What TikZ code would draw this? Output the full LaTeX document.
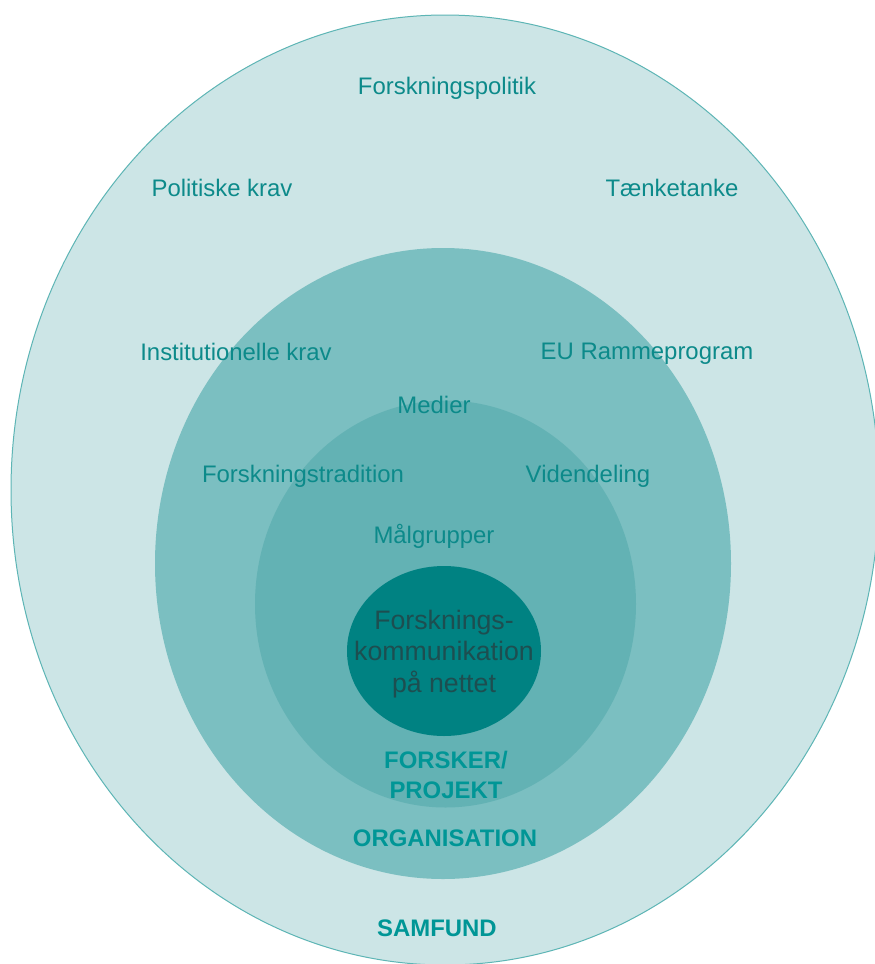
\documentclass[tikz,border=0pt]{standalone}
\usepackage{fontspec}
\setmainfont{Liberation Sans}
\definecolor{ringA}{HTML}{CCE5E6}
\definecolor{ringAline}{HTML}{5DB5B5}
\definecolor{ringB}{HTML}{7BBFC1}
\definecolor{ringC}{HTML}{63B2B4}
\definecolor{core}{HTML}{008282}
\definecolor{lbl}{HTML}{0C8A8A}
\definecolor{boldlbl}{HTML}{009696}
\definecolor{coretext}{HTML}{1D4E50}
\tikzset{
  lab/.style={text=lbl, font=\fontsize{24}{28}\selectfont, inner sep=0pt, anchor=center},
  blab/.style={text=boldlbl, font=\fontsize{24}{30}\selectfont\bfseries, inner sep=0pt, align=center, anchor=center},
  ctext/.style={text=coretext, font=\fontsize{26.8}{31.5}\selectfont, align=center, inner sep=0pt}
}
\begin{document}
\begin{tikzpicture}[x=1bp,y=-1bp]
\useasboundingbox (0,0) rectangle (875,964);
\clip (0,0) rectangle (875,964);
\fill[white] (0,0) rectangle (875,964);
% rings
\draw[fill=ringA, draw=ringAline, line width=1bp] (445,490) ellipse [x radius=434, y radius=475];
\fill[ringB] (443,563.5) ellipse [x radius=288, y radius=315.5];
\fill[ringC] (445.5,604) ellipse [x radius=190.5, y radius=203.5];
\fill[core] (444,651) ellipse [x radius=97, y radius=85];
% labels
\node[lab] (fp) at (447,88) {Forskningspolitik};
\node[lab] (pk) at (222,188) {Politiske krav};
\node[lab] (tt) at (672,188) {Tænketanke};
\node[lab] (ik) at (236,352) {Institutionelle krav};
\node[lab] (eu) at (647,354) {EU Rammeprogram};
\node[lab] (me) at (434,405) {Medier};
\node[lab] (ft) at (303,476) {Forskningstradition};
\node[lab] (vd) at (588,476) {Videndeling};
\node[lab] (mg) at (434,536) {Målgrupper};
\node[ctext] (ct) at (444,654) {Forsknings-\\kommunikation\\på nettet};
\node[blab] (fo) at (446,775) {FORSKER/\\PROJEKT};
\node[blab] (org) at (445,838) {ORGANISATION};
\node[blab] (sam) at (437,928) {SAMFUND};
\end{tikzpicture}
\end{document}
